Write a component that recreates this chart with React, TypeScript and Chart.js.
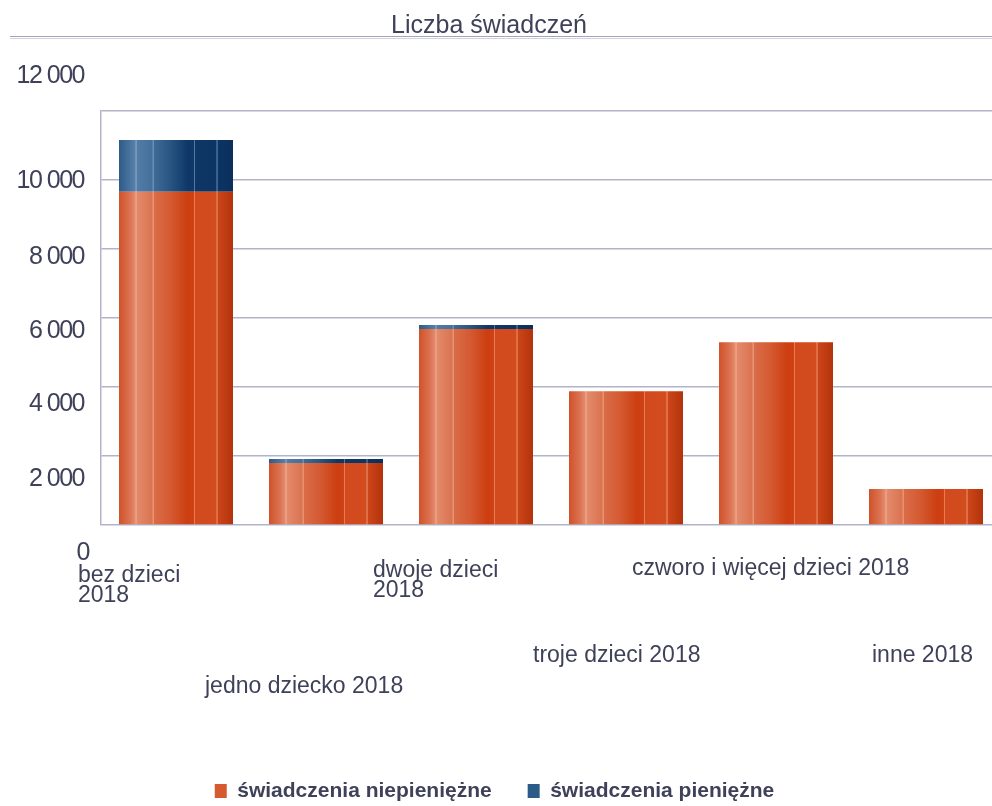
import React, { useEffect, useRef } from 'react';
import { Chart, registerables } from 'chart.js';

Chart.register(...registerables);

// ---------- data ----------
const chartTitle = 'Liczba świadczeń';
const categories: string[][] = [
  ['bez dzieci', '2018'],
  ['jedno dziecko 2018'],
  ['dwoje dzieci', '2018'],
  ['troje dzieci 2018'],
  ['czworo i więcej dzieci 2018'],
  ['inne 2018'],
];
const seriesNames = ['świadczenia niepieniężne', 'świadczenia pieniężne'];
const niepieniezne = [9660, 1800, 5680, 3880, 5300, 1040];
const pieniezne = [1500, 115, 115, 0, 0, 0];
const yTickValues = [0, 2000, 4000, 6000, 8000, 10000, 12000];
const yTickLabels = ['0', '2 000', '4 000', '6 000', '8 000', '10 000', '12 000'];

// ---------- styles ----------
const FAMILY = "'Liberation Sans', Arial, sans-serif";
const TEXT = '#3f4159';
const GRID = '#b2b3c8';
const BAR_PCT = 0.76;
const legendColors = ['#d65a30', '#2c5b8a'];
const yLabelShiftY = [28, 23, 17, 13, 8, 1, -35];
const yLabelShiftX = [5, 0, 0, 0, 0, 0, 0];
const xLabelDx = [-98, -121, -103, -93, -144, -54];
const xLabelDy = [57, 168, 52, 137, 50, 137];
const X_LINE_GAP = 20;

const redStops: [number, string][] = [
  [0, '#d0522a'],
  [0.1, '#dc7453'],
  [0.14, '#e48c6e'],
  [0.15, '#f0aa8e'],
  [0.16, '#e38a6b'],
  [0.29, '#da7350'],
  [0.3, '#eea080'],
  [0.31, '#d96c48'],
  [0.45, '#d45a32'],
  [0.6, '#cc3e10'],
  [0.655, '#cf4216'],
  [0.66, '#ee8a62'],
  [0.67, '#d24a1e'],
  [0.85, '#d24c1e'],
  [0.86, '#ec8c66'],
  [0.87, '#cc4518'],
  [1, '#b3330c'],
];
const blueStops: [number, string][] = [
  [0, '#2e5a88'],
  [0.14, '#5680aa'],
  [0.15, '#8aa8c8'],
  [0.16, '#527ca6'],
  [0.29, '#44709c'],
  [0.3, '#7898bb'],
  [0.31, '#3f6a96'],
  [0.45, '#285582'],
  [0.6, '#0f3868'],
  [0.655, '#0f3868'],
  [0.66, '#6a8cb4'],
  [0.67, '#0e3766'],
  [0.85, '#0d3564'],
  [0.86, '#5f84ae'],
  [0.87, '#0c3463'],
  [1, '#0a2f5c'],
];

function barFill(stops: [number, string][], fallback: string) {
  return (c: any) => {
    const chart = c.chart;
    const xs = chart.scales && chart.scales.x;
    if (!chart.chartArea || !xs || c.dataIndex === undefined) return fallback;
    const cx = xs.getPixelForValue(c.dataIndex);
    const w = (xs.width / chart.data.labels.length) * BAR_PCT;
    const g = chart.ctx.createLinearGradient(cx - w / 2, 0, cx + w / 2, 0);
    stops.forEach(([o, col]) => g.addColorStop(o, col));
    return g;
  };
}

const textPlugin = {
  id: 'customText',
  afterDraw(chart: any) {
    const { ctx } = chart;
    const xs = chart.scales.x;
    const ys = chart.scales.y;
    ctx.save();
    // title
    ctx.fillStyle = TEXT;
    ctx.font = `25px ${FAMILY}`;
    ctx.textAlign = 'center';
    ctx.textBaseline = 'alphabetic';
    ctx.fillText(chartTitle, chart.width / 2 - 5.5, 33);
    // title rule (double line)
    ctx.lineWidth = 1;
    ctx.strokeStyle = '#a3a5bb';
    ctx.beginPath();
    ctx.moveTo(22, 36.5);
    ctx.lineTo(chart.width, 36.5);
    ctx.stroke();
    ctx.strokeStyle = '#d2d3de';
    ctx.beginPath();
    ctx.moveTo(22, 38.5);
    ctx.lineTo(chart.width, 38.5);
    ctx.stroke();
    // y labels
    ctx.font = `25px ${FAMILY}`;
    (ctx as any).letterSpacing = '-1.5px';
    ctx.textAlign = 'right';
    ctx.textBaseline = 'middle';
    yTickValues.forEach((v, i) => {
      ctx.fillText(
        yTickLabels[i],
        ys.right - 17 + yLabelShiftX[i],
        ys.getPixelForValue(v) + yLabelShiftY[i]
      );
    });
    // x labels
    (ctx as any).letterSpacing = '0px';
    ctx.font = `23px ${FAMILY}`;
    ctx.textAlign = 'left';
    ctx.textBaseline = 'alphabetic';
    categories.forEach((lines, i) => {
      const x = xs.getPixelForTick(i) + xLabelDx[i];
      lines.forEach((line, k) => {
        ctx.fillText(line, x, xs.top + xLabelDy[i] + k * X_LINE_GAP);
      });
    });
    ctx.restore();
  },
};

export default function App() {
  const ref = useRef<HTMLCanvasElement>(null);
  useEffect(() => {
    if (!ref.current) return;
    Chart.defaults.font.family = FAMILY;
    const chart = new Chart(ref.current, {
      type: 'bar',
      data: {
        labels: categories.map((l) => l.join(' ')),
        datasets: [
          {
            label: seriesNames[0],
            data: niepieniezne,
            backgroundColor: barFill(redStops, legendColors[0]),
            borderWidth: 0,
            barPercentage: BAR_PCT,
            categoryPercentage: 1,
          },
          {
            label: seriesNames[1],
            data: pieniezne,
            backgroundColor: barFill(blueStops, legendColors[1]),
            borderWidth: 0,
            barPercentage: BAR_PCT,
            categoryPercentage: 1,
          },
        ],
      },
      options: {
        responsive: false,
        animation: false,
        layout: { padding: { top: 111, left: 0, right: 0, bottom: 18.5 } },
        scales: {
          x: {
            stacked: true,
            grid: { display: false, drawTicks: false },
            border: { display: false },
            ticks: { display: false },
            afterFit: (s: any) => {
              s.height = 219.5;
            },
          },
          y: {
            stacked: true,
            min: 0,
            max: 12000,
            ticks: { display: false, stepSize: 2000 },
            grid: { color: GRID, lineWidth: 1.5, drawTicks: false },
            border: { display: true, color: GRID, width: 1.5 },
            afterFit: (s: any) => {
              s.width = 113;
            },
          },
        },
        plugins: {
          title: { display: false },
          tooltip: { enabled: false },
          legend: {
            display: true,
            position: 'bottom',
            labels: {
              boxWidth: 12,
              boxHeight: 14,
              padding: 36,
              color: TEXT,
              font: { size: 21, weight: 'bold', family: FAMILY },
              generateLabels: () =>
                seriesNames.map((t, i) => ({
                  text: t,
                  fillStyle: legendColors[i],
                  strokeStyle: legendColors[i],
                  lineWidth: 0,
                  hidden: false,
                  datasetIndex: i,
                  fontColor: TEXT,
                })),
            },
          },
        },
      },
      plugins: [textPlugin],
    } as any);
    return () => chart.destroy();
  }, []);

  return (
    <div
      style={{
        position: 'fixed',
        left: 0,
        top: 0,
        width: 992,
        height: 806,
        overflow: 'hidden',
        background: '#ffffff',
      }}
    >
      <canvas
        ref={ref}
        width={1013}
        height={830}
        style={{ position: 'absolute', left: -12, top: 0 }}
      />
    </div>
  );
}
